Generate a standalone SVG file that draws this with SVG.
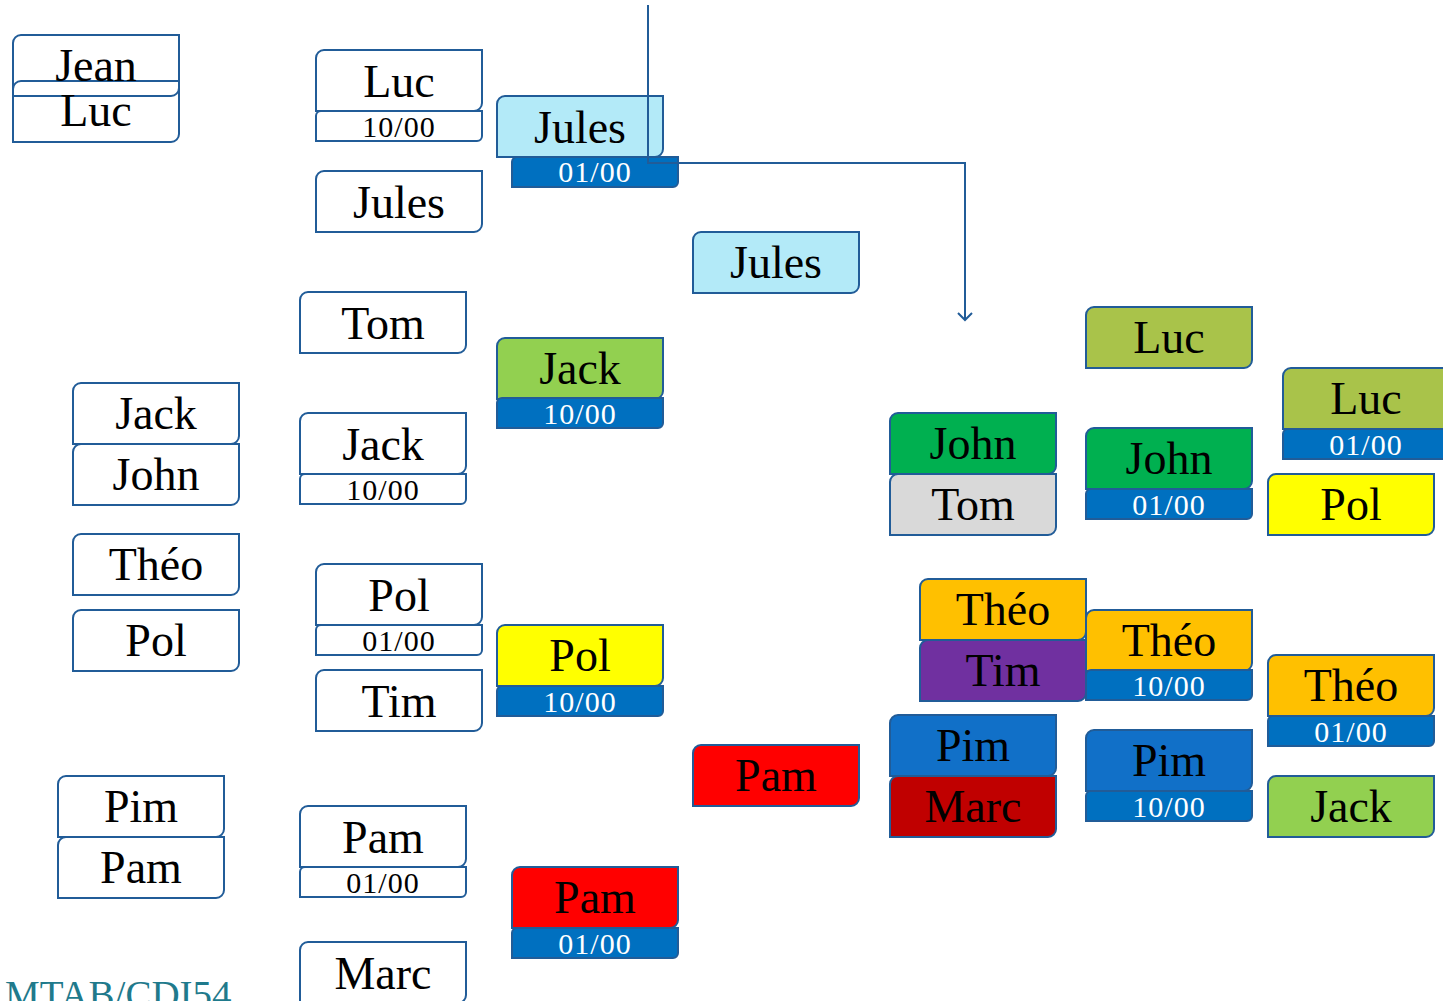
<svg xmlns="http://www.w3.org/2000/svg" xmlns:xlink="http://www.w3.org/1999/xlink" width="1443" height="1001" viewBox="0 0 1443 1001">
<style>
.b{stroke:#215C98;stroke-width:2}
.w{fill:#FFFFFF}
.lb{fill:#B3EAF8}
.gr{fill:#92D050}
.g2{fill:#00B050}
.ol{fill:#A9C34A}
.ye{fill:#FFFF00}
.re{fill:#FF0000}
.dr{fill:#C00000}
.or{fill:#FFC000}
.pu{fill:#7030A0}
.gy{fill:#D9D9D9}
.bl{fill:#1170C8}
.db{fill:#0070C0}
.t{font-family:"Liberation Serif","Times New Roman",serif;font-size:46px;fill:#000;text-anchor:middle}
.d{font-family:"Liberation Serif","Times New Roman",serif;font-size:30px;fill:#000;text-anchor:middle;letter-spacing:1px}
.dw{fill:#FFFFFF}
.c{fill:none;stroke:#215C98;stroke-width:2}
</style>
<defs>
<path id="nb" d="M8,0 H166 V53 A8,8 0 0 1 158,61 H0 V8 A8,8 0 0 1 8,0 Z"/>
<path id="dbx" d="M5,0 H166 V25 A5,5 0 0 1 161,30 H0 V5 A5,5 0 0 1 5,0 Z"/>
<marker id="arr" markerWidth="16" markerHeight="16" refX="8" refY="8" orient="auto" markerUnits="userSpaceOnUse">
<path d="M1,1 L8,8 L1,15" fill="none" stroke="#215C98" stroke-width="2"/>
</marker>
</defs>
<rect width="1443" height="1001" fill="#FFFFFF"/>

<g id="n1">
<use href="#nb" x="13" y="35" class="b w"/>
<use href="#nb" x="13" y="81" class="b" fill="none"/>
<text x="96" y="81" class="t">Jean</text>
<text x="96" y="126" class="t">Luc</text>
</g>
<g id="n2">
<use href="#nb" x="73" y="383" class="b w"/>
<use href="#nb" x="73" y="444" class="b w"/>
<text x="156" y="429" class="t">Jack</text>
<text x="156" y="490" class="t">John</text>
</g>
<g id="n3"><use href="#nb" x="73" y="534" class="b w"/><text x="156" y="580" class="t">Théo</text></g>
<g id="n4"><use href="#nb" x="73" y="610" class="b w"/><text x="156" y="656" class="t">Pol</text></g>
<g id="n5">
<use href="#nb" x="58" y="776" class="b w"/>
<use href="#nb" x="58" y="837" class="b w"/>
<text x="141" y="822" class="t">Pim</text>
<text x="141" y="883" class="t">Pam</text>
</g>

<g id="n6">
<use href="#nb" x="316" y="50" class="b w"/>
<use href="#dbx" x="316" y="111" class="b w"/>
<text x="399" y="97" class="t">Luc</text>
<text x="399" y="137" class="d">10/00</text>
</g>
<g id="n7"><use href="#nb" x="316" y="171" class="b w"/><text x="399" y="218" class="t">Jules</text></g>
<g id="n8"><use href="#nb" x="300" y="292" class="b w"/><text x="383" y="339" class="t">Tom</text></g>
<g id="n9">
<use href="#nb" x="300" y="413" class="b w"/>
<use href="#dbx" x="300" y="474" class="b w"/>
<text x="383" y="460" class="t">Jack</text>
<text x="383" y="500" class="d">10/00</text>
</g>
<g id="n10">
<use href="#nb" x="316" y="564" class="b w"/>
<use href="#dbx" x="316" y="625" class="b w"/>
<text x="399" y="611" class="t">Pol</text>
<text x="399" y="651" class="d">01/00</text>
</g>
<g id="n11"><use href="#nb" x="316" y="670" class="b w"/><text x="399" y="717" class="t">Tim</text></g>
<g id="n12">
<use href="#nb" x="300" y="806" class="b w"/>
<use href="#dbx" x="300" y="867" class="b w"/>
<text x="383" y="853" class="t">Pam</text>
<text x="383" y="893" class="d">01/00</text>
</g>
<g id="n13"><use href="#nb" x="300" y="942" class="b w"/><text x="383" y="989" class="t">Marc</text></g>

<g id="n14">
<use href="#nb" x="497" y="96" class="b lb"/>
<use href="#dbx" x="512" y="157" class="b db"/>
<text x="580" y="143" class="t">Jules</text>
<text x="595" y="182" class="d dw">01/00</text>
</g>
<g id="n15">
<use href="#nb" x="497" y="338" class="b gr"/>
<use href="#dbx" x="497" y="398" class="b db"/>
<text x="580" y="384" class="t">Jack</text>
<text x="580" y="424" class="d dw">10/00</text>
</g>
<g id="n16">
<use href="#nb" x="497" y="625" class="b ye"/>
<use href="#dbx" x="497" y="686" class="b db"/>
<text x="580" y="671" class="t">Pol</text>
<text x="580" y="712" class="d dw">10/00</text>
</g>
<g id="n17">
<use href="#nb" x="512" y="867" class="b re"/>
<use href="#dbx" x="512" y="928" class="b db"/>
<text x="595" y="913" class="t">Pam</text>
<text x="595" y="954" class="d dw">01/00</text>
</g>

<g id="n18"><use href="#nb" x="693" y="232" class="b lb"/><text x="776" y="278" class="t">Jules</text></g>
<g id="n19"><use href="#nb" x="693" y="745" class="b re"/><text x="776" y="791" class="t">Pam</text></g>

<g id="n20">
<use href="#nb" x="890" y="413" class="b g2"/>
<use href="#nb" x="890" y="474" class="b gy"/>
<text x="973" y="459" class="t">John</text>
<text x="973" y="520" class="t">Tom</text>
</g>
<g id="n21">
<use href="#nb" x="920" y="579" class="b or"/>
<use href="#nb" x="920" y="640" class="b pu"/>
<text x="1003" y="625" class="t">Théo</text>
<text x="1003" y="686" class="t">Tim</text>
</g>
<g id="n22">
<use href="#nb" x="890" y="715" class="b bl"/>
<use href="#nb" x="890" y="776" class="b dr"/>
<text x="973" y="761" class="t">Pim</text>
<text x="973" y="822" class="t">Marc</text>
</g>

<g id="n23"><use href="#nb" x="1086" y="307" class="b ol"/><text x="1169" y="353" class="t">Luc</text></g>
<g id="n24">
<use href="#nb" x="1086" y="428" class="b g2"/>
<use href="#dbx" x="1086" y="489" class="b db"/>
<text x="1169" y="474" class="t">John</text>
<text x="1169" y="515" class="d dw">01/00</text>
</g>
<g id="n25">
<use href="#nb" x="1086" y="610" class="b or"/>
<use href="#dbx" x="1086" y="670" class="b db"/>
<text x="1169" y="656" class="t">Théo</text>
<text x="1169" y="696" class="d dw">10/00</text>
</g>
<g id="n26">
<use href="#nb" x="1086" y="730" class="b bl"/>
<use href="#dbx" x="1086" y="791" class="b db"/>
<text x="1169" y="776" class="t">Pim</text>
<text x="1169" y="817" class="d dw">10/00</text>
</g>

<g id="n27">
<use href="#nb" x="1283" y="368" class="b ol"/>
<use href="#dbx" x="1283" y="429" class="b db"/>
<text x="1366" y="414" class="t">Luc</text>
<text x="1366" y="455" class="d dw">01/00</text>
</g>
<g id="n28"><use href="#nb" x="1268" y="474" class="b ye"/><text x="1351" y="520" class="t">Pol</text></g>
<g id="n29">
<use href="#nb" x="1268" y="655" class="b or"/>
<use href="#dbx" x="1268" y="716" class="b db"/>
<text x="1351" y="701" class="t">Théo</text>
<text x="1351" y="742" class="d dw">01/00</text>
</g>
<g id="n30"><use href="#nb" x="1268" y="776" class="b gr"/><text x="1351" y="822" class="t">Jack</text></g>

<g id="connectors">
<path d="M648,5 V163 H965 V320" class="c" marker-end="url(#arr)"/>
</g>

<text x="5" y="1008" font-family="'Liberation Serif','Times New Roman',serif" font-size="39" fill="#1F7A8C">MTAB/CDI54</text>
</svg>
